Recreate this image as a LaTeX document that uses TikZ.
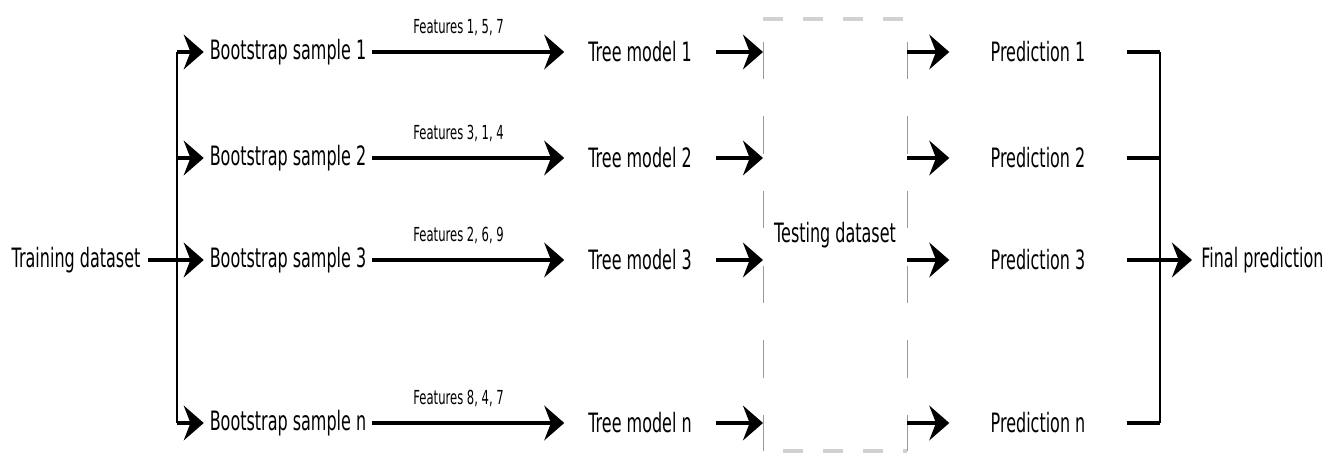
\documentclass[tikz,border=0pt]{standalone}
\usepackage{fontspec}
\setmainfont[FakeStretch=0.6]{DejaVu Sans}
\usetikzlibrary{positioning, arrows.meta}

\tikzset{
  lbl/.style={font=\fontsize{20}{22}\selectfont, inner sep=3pt, outer sep=0pt},
  bootbox/.style={lbl, inner xsep=4.5pt},
  treebox/.style={lbl, inner xsep=18pt},
  predbox/.style={lbl, inner xsep=31pt},
  feat/.style={font=\fontsize{14.5}{16}\selectfont, inner sep=0pt},
  conn/.style={line width=2.6pt},
  trunk/.style={line width=1.6pt},
  arr/.style={conn, -{Stealth[length=15pt, width=26pt, inset=5pt]}},
  sidedash/.style={draw=black!40, line width=0.7pt, dash pattern=on 28pt off 28pt, dash phase=39pt},
  topdash/.style={draw=black!18, line width=3pt, dash pattern=on 15pt off 15pt},
}

\begin{document}
\begin{tikzpicture}[x=0.75pt, y=0.75pt]
	\useasboundingbox (0,0) rectangle (1342,457);

	% Dati di addestramento
	\node[lbl, inner xsep=6pt] (train) at (76,197) {Training dataset};
	\coordinate (fork) at (177,197);

	% Campioni bootstrap
	\node[bootbox] (boot1) at (288,405) {Bootstrap sample 1};
	\node[bootbox] (boot2) at (288,299) {Bootstrap sample 2};
	\node[bootbox] (boot3) at (288,197) {Bootstrap sample 3};
	\node[bootbox] (bootn) at (288,34) {Bootstrap sample n};

	% Alberi
	\node[treebox] (tree1) at (640,405) {Tree model 1};
	\node[treebox] (tree2) at (640,299) {Tree model 2};
	\node[treebox] (tree3) at (640,197) {Tree model 3};
	\node[treebox] (treen) at (640,34) {Tree model n};

	% Dati di test
	\node[lbl, minimum width=108pt, minimum height=324pt] (test) at (835,222) {Testing dataset};
	\draw[topdash] (test.north west) -- (test.north east);
	\draw[topdash, dash phase=15pt] (test.south west) -- (test.south east);
	\draw[sidedash] (test.north west) -- (test.south west);
	\draw[sidedash] (test.north east) -- (test.south east);

	% Previsioni
	\node[predbox] (pred1) at (1038,405) {Prediction 1};
	\node[predbox] (pred2) at (1038,299) {Prediction 2};
	\node[predbox] (pred3) at (1038,197) {Prediction 3};
	\node[predbox] (predn) at (1038,34) {Prediction n};
	\coordinate (join) at (1160,197);
	\node[lbl, inner xsep=7pt, anchor=west] (final) at (1192,197) {Final prediction};

	% Ramificazione iniziale
	\draw[conn] (train) -- (fork);
	\draw[trunk] (fork |- boot1) -- (fork |- bootn);
	\draw[arr] (fork |- boot1) -- (boot1);
	\draw[arr] (fork |- boot2) -- (boot2);
	\draw[arr] (fork) -- (boot3);
	\draw[arr] (fork |- bootn) -- (bootn);

	% Selezione delle feature
	\draw[arr] (boot1) -- node[feat, above=11pt, pos=0.45] (feat1) {Features 1, 5, 7} (tree1);
	\draw[arr] (boot2) -- node[feat, above=11pt, pos=0.45] (feat2) {Features 3, 1, 4} (tree2);
	\draw[arr] (boot3) -- node[feat, above=11pt, pos=0.45] (feat3) {Features 2, 6, 9} (tree3);
	\draw[arr] (bootn) -- node[feat, above=11pt, pos=0.45] (featn) {Features 8, 4, 7} (treen);

	% Verso i dati di test
	\draw[arr] (tree1) -- (tree1 -| test.west);
	\draw[arr] (tree2) -- (tree2 -| test.west);
	\draw[arr] (tree3) -- (tree3 -| test.west);
	\draw[arr] (treen) -- (treen -| test.west);

	\draw[arr] (test.east |- pred1) -- (pred1);
	\draw[arr] (test.east |- pred2) -- (pred2);
	\draw[arr] (test.east |- pred3) -- (pred3);
	\draw[arr] (test.east |- predn) -- (predn);

	% Aggregazione
	\draw[conn] (pred1) -- (pred1 -| join);
	\draw[conn] (pred2) -- (pred2 -| join);
	\draw[conn] (pred3) -- (join);
	\draw[conn] (predn) -- (predn -| join);
	\draw[trunk] (pred1 -| join) -- (predn -| join);
	\draw[arr] (join) -- (final);
\end{tikzpicture}
\end{document}
